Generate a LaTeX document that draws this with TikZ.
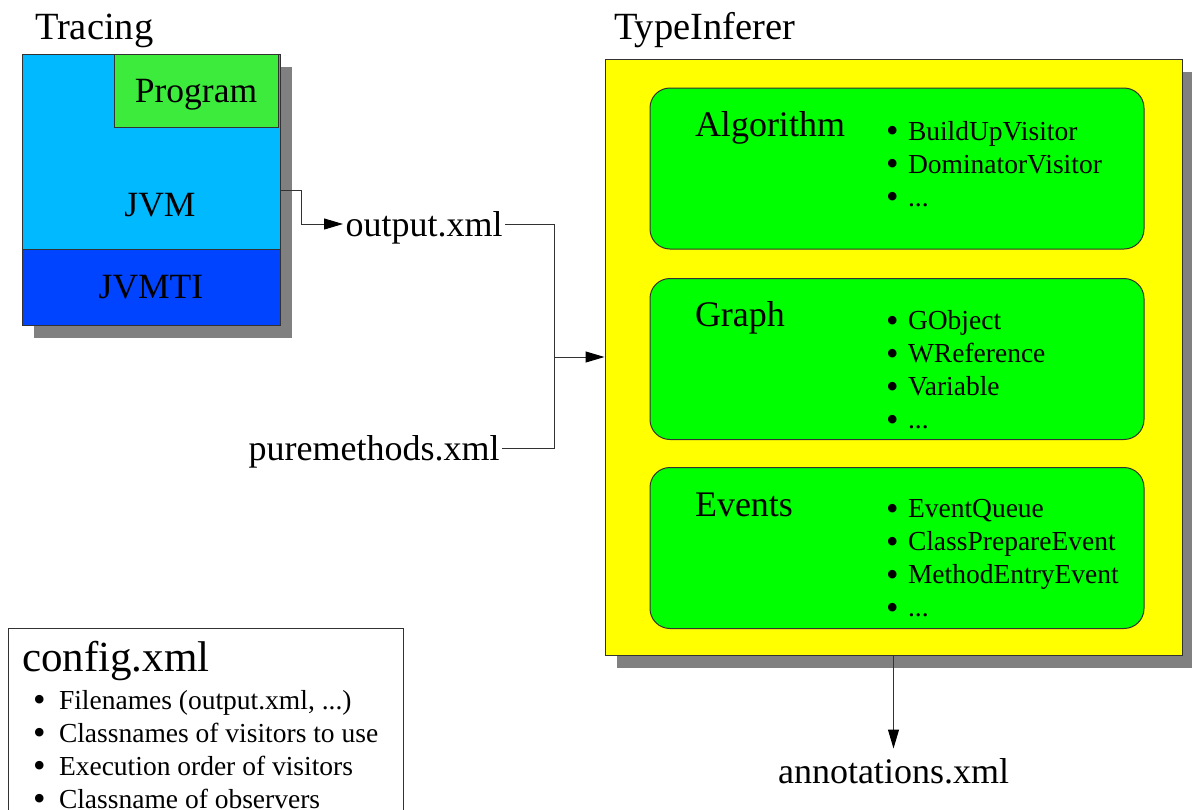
\documentclass[tikz,border=0pt]{standalone}
\usepackage{fontspec}
\setmainfont{Liberation Serif}
\usetikzlibrary{positioning,arrows.meta,shadows}

\definecolor{jvmblue}{RGB}{0,185,255}
\definecolor{jvmtiblue}{RGB}{0,68,255}
\definecolor{progreen}{RGB}{60,235,60}
\definecolor{pkggreen}{RGB}{0,255,0}
\definecolor{inferyellow}{RGB}{255,255,0}
\definecolor{shadowgray}{RGB}{128,128,128}
\definecolor{edgegray}{RGB}{50,50,50}

\newcommand{\itm}[2][22pt]{\makebox[#1][l]{\raisebox{-0.09em}{\scalebox{1.3}{\textbullet}}}#2}

\begin{document}
\begin{tikzpicture}[
x=1pt, y=-1pt, line width=1pt,
castshadow/.style={drop shadow={shadow xshift=12pt, shadow yshift=-13pt, fill=shadowgray, opacity=1}},
heading/.style={anchor=base west, inner sep=0pt, font=\fontsize{38.5}{44}\selectfont},
layer/.style={draw=edgegray, minimum width=258pt, inner sep=0pt, text depth=0pt, font=\fontsize{35.5}{40}\selectfont},
pkg/.style={draw=edgegray, fill=pkggreen, rounded corners=20pt, minimum width=494pt, minimum height=161pt},
pkgtitle/.style={anchor=base west, inner sep=0pt, font=\fontsize{36}{40}\selectfont},
pkglist/.style={anchor=north west, align=left, inner sep=0pt, font=\fontsize{27.5}{33}\selectfont},
file/.style={inner sep=2pt, text depth=0pt, font=\fontsize{36}{40}\selectfont},
conn/.style={draw=edgegray},
arrow/.style={conn, -{Triangle[length=19pt, width=11pt, color=black]}}
]
\useasboundingbox (0,0) rectangle (1192,809);
\clip (0,0) rectangle (1192,809);

% tracing side
\node[layer, castshadow, fill=jvmblue, minimum height=195pt] (jvm) at (151,151.5) {};
\node[layer, castshadow, fill=jvmtiblue, minimum height=76pt] (jvmti) at (151,287) {JVMTI};
\node[layer, fill=progreen, minimum width=164pt, minimum height=73pt] (program) at (196,90.5) {Program};
\node[inner sep=0pt, font=\fontsize{35.5}{40}\selectfont] (jvmlabel) at (160,205) {JVM};
\node[heading] (tracing) at ([xshift=13pt, yshift=14pt]jvm.north west) {Tracing};

% type inferer
\node[draw=edgegray, fill=inferyellow, castshadow, minimum width=577pt, minimum height=596pt, inner sep=0pt] (typeinferer) at (893.5,357) {};
\node[heading] (typeinferertitle) at ([xshift=9pt, yshift=19pt]typeinferer.north west) {TypeInferer};

\node[pkg] (algorithm) at (897,168.5) {};
\node[pkg] (graph) at (897,359) {};
\node[pkg] (events) at (897,548) {};

\node[pkgtitle] (algorithmtitle) at ([xshift=45pt, yshift=-49pt]algorithm.north west) {Algorithm};
\node[pkgtitle] (graphtitle) at ([xshift=45pt, yshift=-48pt]graph.north west) {Graph};
\node[pkgtitle] (eventstitle) at ([xshift=45pt, yshift=-49pt]events.north west) {Events};

\node[pkglist] (algorithmlist) at ([xshift=236pt, yshift=-33pt]algorithm.north west)
  {\itm{BuildUpVisitor}\\ \itm{DominatorVisitor}\\ \itm{...}};
\node[pkglist] (graphlist) at ([xshift=236pt, yshift=-32pt]graph.north west)
  {\itm{GObject}\\ \itm{WReference}\\ \itm{Variable}\\ \itm{...}};
\node[pkglist] (eventslist) at ([xshift=236pt, yshift=-32pt]events.north west)
  {\itm{EventQueue}\\ \itm{ClassPrepareEvent}\\ \itm{MethodEntryEvent}\\ \itm{...}};

% files
\node[file, anchor=west] (outputxml) at (343,224) {output.xml};
\node[file, anchor=east] (puremethods) at (502,448) {puremethods.xml};
\node[file, below=93pt of typeinferer, inner ysep=10pt] (annotations) {annotations.xml};
\coordinate (merge) at (554,357);

\draw[arrow] ([yshift=-38.5pt]jvm.east) -- ++(21,0) |- (outputxml.west);
\draw[conn] (outputxml.east) -| (merge);
\draw[conn] (puremethods.east) -| (merge);
\draw[arrow] (merge) -- (typeinferer.west);
\draw[arrow] (typeinferer) -- (annotations);

% config
\node[draw=edgegray, minimum width=395pt, minimum height=200pt, inner sep=0pt] (config) at (205.5,728) {};
\node[anchor=base west, inner sep=0pt, font=\fontsize{43}{48}\selectfont] (configtitle) at ([xshift=14pt, yshift=-44pt]config.north west) {config.xml};
\node[pkglist] (configlist) at ([xshift=25pt, yshift=-62pt]config.north west)
  {\itm[26pt]{Filenames (output.xml, ...)}\\ \itm[26pt]{Classnames of visitors to use}\\
   \itm[26pt]{Execution order of visitors}\\ \itm[26pt]{Classname of observers}};
\end{tikzpicture}
\end{document}
